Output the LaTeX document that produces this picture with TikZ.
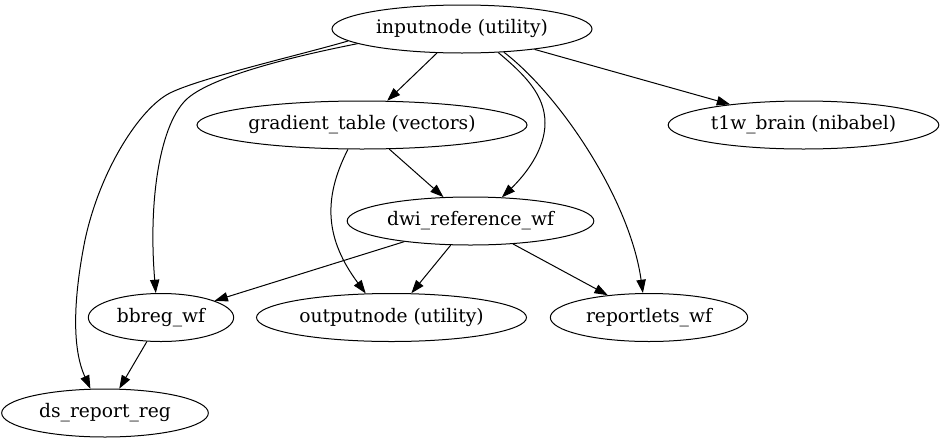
\documentclass[tikz,border=0pt]{standalone}
\usepackage{fontspec}
\setmainfont{DejaVu Serif}
\usetikzlibrary{shapes.geometric,arrows.meta}

\begin{document}
\begin{tikzpicture}[x=0.75pt,y=-0.75pt,
    wfnode/.style={draw, ellipse, line width=0.75pt, inner sep=0pt, minimum height=36pt,
      font=\fontsize{14}{17}\selectfont, text height=10pt, text depth=3pt},
    link/.style={-{Triangle[length=10pt,width=7pt]}, line width=0.75pt}]
\useasboundingbox (0,0) rectangle (945,443);
% nodes
\node[wfnode, minimum width=195pt] (inp) at (462,29) {inputnode (utility)};
\node[wfnode, minimum width=247.5pt] (grad) at (362,125) {gradient\_table (vectors)};
\node[wfnode, minimum width=203pt] (t1w) at (803.5,125) {t1w\_brain (nibabel)};
\node[wfnode, minimum width=185pt] (dwi) at (470.5,221) {dwi\_reference\_wf};
\node[wfnode, minimum width=109pt] (bbreg) at (161,317.5) {bbreg\_wf};
\node[wfnode, minimum width=202.5pt] (outp) at (391.5,317.5) {outputnode (utility)};
\node[wfnode, minimum width=148pt] (rep) at (649,317.5) {reportlets\_wf};
\node[wfnode, minimum width=155pt] (ds) at (105,413) {ds\_report\_reg};
% straight edges
\draw[link] (inp) -- (grad);
\draw[link] (inp) -- (t1w);
\draw[link] (grad) -- (dwi);
\draw[link] (dwi) -- (bbreg);
\draw[link] (dwi) -- (outp);
\draw[link] (dwi) -- (rep);
\draw[link] (bbreg) -- (ds);
% curved edges
\draw[link] (inp.-33) .. controls (525,75) and (545,95) .. (545,123)
  .. controls (545,150) and (525,175) .. (dwi.37);
\draw[link] (inp.-29) .. controls (560,95) and (630,200) .. (rep.104);
\draw[link] (inp.188) .. controls (300,55) and (215,75) .. (188,98)
  .. controls (160,122) and (148,200) .. (bbreg.102);
\draw[link] (inp.186) .. controls (300,55) and (200,78) .. (170,93)
  .. controls (140,108) and (100,170) .. (85,240)
  .. controls (78,275) and (68,340) .. (ds.121);
\draw[link] (grad.240) .. controls (322,200) and (326,240) .. (outp.137);
\end{tikzpicture}
\end{document}
